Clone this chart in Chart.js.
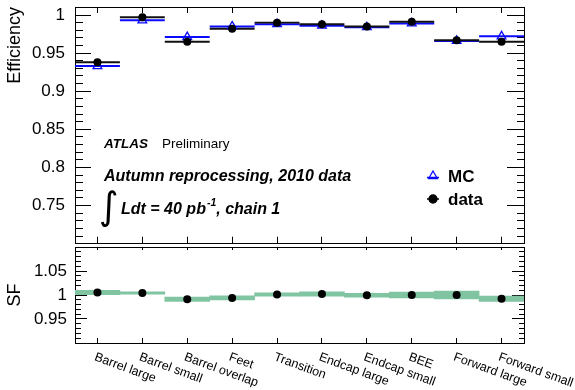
<!DOCTYPE html>
<html>
<head>
<meta charset="utf-8">
<script src="https://cdn.jsdelivr.net/npm/chart.js@4/dist/chart.umd.min.js"></script>
<style>
  html, body { margin: 0; padding: 0; background: #fff; }
  #wrap { position: relative; width: 575px; height: 390px; overflow: hidden; }
  #eff { position: absolute; left: 0; top: 0; }
  #sf  { position: absolute; left: 0; top: 240px; }
</style>
</head>
<body>
<div id="wrap">
  <canvas id="eff" width="575" height="250"></canvas>
  <canvas id="sf" width="575" height="150"></canvas>
</div>
<script>
// Muon trigger regions (chambers) along the x axis
const categories = ['Barrel large', 'Barrel small', 'Barrel overlap', 'Feet', 'Transition',
                    'Endcap large', 'Endcap small', 'BEE', 'Forward large', 'Forward small'];

// Trigger efficiency per region
const effData = [0.938, 0.997, 0.965, 0.982, 0.990, 0.988, 0.985, 0.991, 0.967, 0.965];
const effMC   = [0.933, 0.993, 0.971, 0.985, 0.988, 0.986, 0.984, 0.989, 0.966, 0.972];

// Scale factors (data / MC) and their uncertainty band half-widths
const sfValues = [1.005, 1.004, 0.991, 0.994, 1.001, 1.002, 0.9995, 1.000, 1.000, 0.992];
const sfErrors = [0.0045, 0.0024, 0.0045, 0.0045, 0.0034, 0.0045, 0.004, 0.006, 0.008, 0.0055];

// Axis tick labels (major ticks)
const effTickLabels = [0.75, 0.8, 0.85, 0.9, 0.95, 1];
const sfTickLabels = [0.95, 1, 1.05];

const FONT = '"Liberation Sans", Arial, Helvetica, sans-serif';
const BLUE = '#0a0aff';
const BLACK = '#000';
const GREEN = '#80c4a2';

const isMajor = v => Math.abs(v * 20 - Math.round(v * 20)) < 1e-6;
const labelFor = list => v => {
  const hit = list.find(t => Math.abs(t - v) < 1e-6);
  return hit === undefined ? '' : String(hit);
};

// Histogram-style bin line: a thin floating bar spanning the whole bin
const binLine = (vals, half) => vals.map(v => [v - half, v + half]);

// keep the frame exactly where the layout padding puts it
const noScalePadding = s => { s.paddingTop = 0; s.paddingBottom = 0; s.paddingLeft = 0; s.paddingRight = 0; };

function frameAxes(cfg) {
  // left / right value axes with inward major + minor ticks, top / bottom category axes
  const common = {
    type: 'linear', min: cfg.min, max: cfg.max,
    grid: {
      drawOnChartArea: false, color: BLACK, tickColor: BLACK, tickWidth: 1,
      tickLength: -cfg.major
    },
    border: { color: BLACK, width: 1 }
  };
  return {
    x: {
      type: 'category', labels: categories, position: 'bottom', offset: true,
      grid: { offset: false, drawOnChartArea: false, tickColor: BLACK, tickWidth: 1, tickLength: -cfg.xBottomTick },
      border: { color: BLACK, width: 1 },
      ticks: { display: false },
      afterFit: s => { s.height = cfg.xBottomHeight; noScalePadding(s); }
    },
    xTop: {
      type: 'category', labels: categories, position: 'top', offset: true,
      grid: { offset: false, drawOnChartArea: false, tickColor: BLACK, tickWidth: 1, tickLength: -cfg.xTopTick },
      border: { color: BLACK, width: 1 },
      ticks: { display: false },
      afterFit: s => { s.height = 0; noScalePadding(s); }
    },
    y: Object.assign({}, common, {
      position: 'left',
      grid: Object.assign({}, common.grid, {
        tickBorderDash: c => isMajor(c.tick.value) ? [] : [0, cfg.major - cfg.minor, cfg.minor, 100]
      }),
      ticks: {
        stepSize: 0.01, autoSkip: false, color: BLACK, padding: cfg.major + cfg.labelGap,
        font: { family: FONT, size: 17 },
        callback: labelFor(cfg.labels)
      },
      title: {
        display: true, text: cfg.title, align: cfg.titleAlign, color: BLACK,
        font: { family: FONT, size: 18 }, padding: { top: 4, bottom: 0 }
      },
      afterFit: s => { s.width = 75; noScalePadding(s); }
    }),
    yRight: Object.assign({}, common, {
      position: 'right',
      grid: Object.assign({}, common.grid, {
        tickLength: -cfg.majorR,
        tickBorderDash: c => isMajor(c.tick.value) ? [] : [cfg.minor, 100]
      }),
      ticks: { stepSize: 0.01, autoSkip: false, display: false },
      afterFit: s => { s.width = 0; noScalePadding(s); }
    })
  };
}

// Text, formula and legend drawn over the efficiency panel
const effAnnotations = {
  id: 'effAnnotations',
  afterDraw(chart) {
    const ctx = chart.ctx;
    const H = Chart.helpers;
    ctx.save();
    ctx.fillStyle = BLACK;
    ctx.textAlign = 'left';
    ctx.textBaseline = 'alphabetic';

    ctx.font = 'italic bold 13.5px ' + FONT;
    ctx.fillText('ATLAS', 104, 148);
    ctx.font = '13.5px ' + FONT;
    ctx.fillText('Preliminary', 162, 148);

    ctx.font = 'italic bold 16px ' + FONT;
    ctx.fillText('Autumn reprocessing, 2010 data', 104, 181);

    // integral sign
    ctx.font = '38px "DejaVu Sans"';
    ctx.fillText('\u222B', 99, 219);

    ctx.font = 'italic bold 16px ' + FONT;
    let x = 121;
    const t1 = 'Ldt = 40 pb';
    ctx.fillText(t1, x, 214);
    x += ctx.measureText(t1).width + 1;
    ctx.font = 'italic bold 10.5px ' + FONT;
    ctx.fillText('-1', x, 206);
    x += ctx.measureText('-1').width;
    ctx.font = 'italic bold 16px ' + FONT;
    ctx.fillText(', chain 1', x, 214);

    // legend
    const lx = 433;
    const rows = [
      { y: 176, label: 'MC', color: BLUE, style: 'triangle', radius: 5, fill: 'rgba(0,0,0,0)' },
      { y: 199, label: 'data', color: BLACK, style: 'circle', radius: 4, fill: BLACK }
    ];
    rows.forEach(r => {
      ctx.strokeStyle = r.color;
      ctx.lineWidth = 1.5;
      ctx.beginPath();
      ctx.moveTo(lx - 6, r.y + (r.style === 'triangle' ? 1.5 : 0));
      ctx.lineTo(lx + 6, r.y + (r.style === 'triangle' ? 1.5 : 0));
      ctx.stroke();
      ctx.fillStyle = r.fill;
      ctx.strokeStyle = r.color;
      ctx.lineWidth = 1.3;
      H.drawPoint(ctx, { pointStyle: r.style, radius: r.radius, rotation: 0, borderWidth: 1.3 }, lx, r.y);
      ctx.fillStyle = BLACK;
      ctx.font = 'bold 17px ' + FONT;
      ctx.fillText(r.label, 448, r.y + 6);
    });
    ctx.restore();
  }
};

// Rotated region names under the scale-factor panel
const regionLabels = {
  id: 'regionLabels',
  afterDraw(chart) {
    const ctx = chart.ctx;
    const xs = chart.scales.x;
    ctx.save();
    ctx.fillStyle = BLACK;
    ctx.font = '12.5px ' + FONT;
    ctx.textAlign = 'left';
    ctx.textBaseline = 'top';
    categories.forEach((c, i) => {
      ctx.save();
      ctx.translate(xs.getPixelForValue(i) - 0.5, xs.top + 8);
      ctx.rotate(20 * Math.PI / 180);
      ctx.fillText(c, 0, 0);
      ctx.restore();
    });
    ctx.restore();
  }
};

new Chart(document.getElementById('eff'), {
  type: 'bar',
  data: {
    labels: categories,
    datasets: [
      { label: 'MC bins', data: binLine(effMC, 0.0013), backgroundColor: BLUE,
        barPercentage: 1, categoryPercentage: 1, grouped: false, inflateAmount: 0,
        order: 4, yAxisID: 'y' },
      { label: 'data bins', data: binLine(effData, 0.0013), backgroundColor: '#111',
        barPercentage: 1, categoryPercentage: 1, grouped: false, inflateAmount: 0,
        order: 3, yAxisID: 'y' },
      { type: 'line', label: 'MC', data: effMC, showLine: false, pointStyle: 'triangle',
        pointRadius: 5, pointBorderColor: BLUE, pointBackgroundColor: 'rgba(0,0,0,0)',
        pointBorderWidth: 1.3, order: 2, yAxisID: 'y' },
      { type: 'line', label: 'data', data: effData, showLine: false, pointStyle: 'circle',
        pointRadius: 4, pointBorderColor: BLACK, pointBackgroundColor: BLACK,
        pointBorderWidth: 0, order: 1, yAxisID: 'y' }
    ]
  },
  options: {
    responsive: false, animation: false, devicePixelRatio: 1,
    layout: { padding: { left: 0, right: 51, top: 7, bottom: 0 } },
    plugins: { legend: { display: false }, tooltip: { enabled: false } },
    scales: frameAxes({
      min: 0.7, max: 1.0105, major: 16, majorR: 17, minor: 8, labelGap: 10,
      labels: effTickLabels, title: 'Efficiency', titleAlign: 'end',
      xBottomTick: 7, xTopTick: 6, xBottomHeight: 3
    })
  },
  plugins: [effAnnotations]
});

new Chart(document.getElementById('sf'), {
  type: 'bar',
  data: {
    labels: categories,
    datasets: [
      { label: 'SF uncertainty', data: sfValues.map((v, i) => [v - sfErrors[i], v + sfErrors[i]]),
        backgroundColor: GREEN, barPercentage: 1, categoryPercentage: 1, grouped: false,
        order: 2, yAxisID: 'y' },
      { type: 'line', label: 'SF', data: sfValues, showLine: false, pointStyle: 'circle',
        pointRadius: 4, pointBorderColor: BLACK, pointBackgroundColor: BLACK,
        pointBorderWidth: 0, order: 1, yAxisID: 'y' }
    ]
  },
  options: {
    responsive: false, animation: false, devicePixelRatio: 1,
    layout: { padding: { left: 0, right: 51, top: 7, bottom: 0 } },
    plugins: { legend: { display: false }, tooltip: { enabled: false } },
    scales: frameAxes({
      min: 0.9, max: 1.1, major: 12, majorR: 12, minor: 6, labelGap: 8,
      labels: sfTickLabels, title: 'SF', titleAlign: 'center',
      xBottomTick: 5, xTopTick: 3, xBottomHeight: 47
    })
  },
  plugins: [regionLabels]
});
</script>
</body>
</html>
